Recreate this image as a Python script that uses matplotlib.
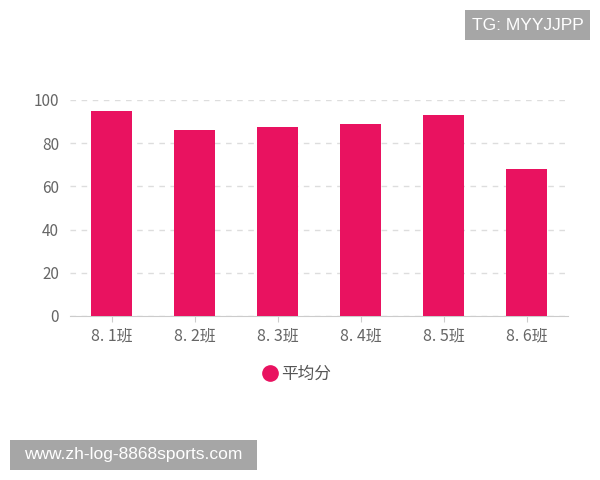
import matplotlib
matplotlib.use('Agg')
import matplotlib.pyplot as plt
from matplotlib.lines import Line2D
from matplotlib.patches import Rectangle

plt.rcParams['font.family'] = ['Noto Sans CJK SC', 'DejaVu Sans']

classes = ['8. 1班', '8. 2班', '8. 3班', '8. 4班', '8. 5班', '8. 6班']
scores = [95, 86, 87.5, 89, 93, 68]
yticks = [0, 20, 40, 60, 80, 100]
bar_color = '#E91260'

fig = plt.figure(figsize=(6, 4.8), dpi=100)
ax = fig.add_axes([0.1167, 0.3417, 0.83, 0.45])
xs = range(len(classes))
ax.bar(xs, scores, width=0.5, color=bar_color, zorder=3)
ax.set_xlim(-0.5, len(classes) - 0.5)
ax.set_ylim(0, 100)
ax.set_yticks(yticks)
ax.set_xticks(list(xs))
ax.set_xticklabels(classes)
ax.yaxis.grid(True, color='#dddddd', linestyle=(0, (4, 4)), lw=1)
ax.set_axisbelow(True)
for s in ['top', 'right', 'left']:
  ax.spines[s].set_visible(False)
ax.spines['bottom'].set_color('#cccccc')
ax.tick_params(axis='y', length=0, labelsize=11, labelcolor='#666666', pad=8)
ax.tick_params(axis='x', length=4, color='#cccccc', labelsize=11.5,
               labelcolor='#666666', pad=4)

handle = Line2D([], [], marker='o', linestyle='', markersize=11,
                color=bar_color)
fig.legend([handle], ['平均分'], loc='center', bbox_to_anchor=(0.493, 0.221),
           frameon=False, fontsize=12, labelcolor='#555555',
           handletextpad=0.05, handlelength=1.2)

# watermarks
def watermark(x0, y0, w, h, txt):
  fig.patches.append(Rectangle((x0 / 600, 1 - (y0 + h) / 480), w / 600, h / 480,
                               transform=fig.transFigure, fc='#a6a6a6',
                               ec='none'))
  fig.text((x0 + w / 2) / 600, 1 - (y0 + h / 2) / 480, txt, ha='center',
           va='center', color='white', fontsize=12.5,
           family='Liberation Sans')

watermark(465, 10, 125, 30, 'TG: MYYJJPP')
watermark(10, 440, 247, 30, 'www.zh-log-8868sports.com')

fig.savefig('out.png', dpi=100)
